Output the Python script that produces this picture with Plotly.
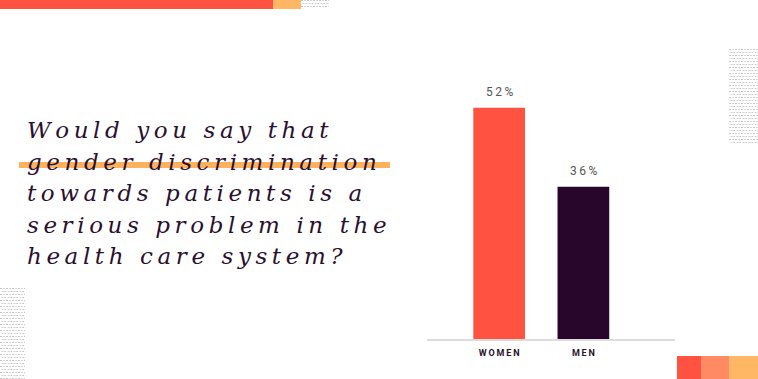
import base64
import plotly.graph_objects as go

# ---------------- data ----------------
categories = ["WOMEN", "MEN"]
values = [52, 36]
value_labels = ["52%", "36%"]
bar_colors = ["#FF5240", "#28062B"]
question_lines = [
    "Would you say that",
    "gender discrimination",
    "towards patients is a",
    "serious problem in the",
    "health care system?",
]

W, H = 758, 379
TEXT_DARK = "#2A0F2E"


def spaced(s, sep="\u2009"):
    return sep.join(s)


def px_x(x):
    return x / W


def px_y(y):
    return 1 - y / H


fig = go.Figure()
fig.add_trace(go.Bar(
    x=categories,
    y=values,
    marker=dict(color=bar_colors, line=dict(width=0)),
    width=0.614,
    hoverinfo="skip",
))

# value labels above bars
for c, v, lab in zip(categories, values, value_labels):
    fig.add_annotation(
        x=c, y=v, xref="x", yref="y", text=spaced(lab), showarrow=False,
        yanchor="bottom", yshift=7,
        font=dict(family="Roboto", size=12, color="#555555"),
    )

# question text
centers = [130, 161.5, 193, 224.5, 255.5]
for line, yc in zip(question_lines, centers):
    fig.add_annotation(
        x=px_x(25), y=px_y(yc), xref="paper", yref="paper",
        xanchor="left", yanchor="middle", showarrow=False,
        text=spaced(line),
        font=dict(family="DejaVu Serif", size=23, color=TEXT_DARK, style="italic"),
    )

shapes = []
# highlight under second line
shapes.append(dict(type="rect", xref="paper", yref="paper", layer="below",
                   x0=px_x(19), x1=px_x(390), y0=px_y(168), y1=px_y(162),
                   fillcolor="#FFB25E", line=dict(width=0)))
# top bar
shapes.append(dict(type="rect", xref="paper", yref="paper", layer="below",
                   x0=0, x1=px_x(273), y0=px_y(9), y1=1,
                   fillcolor="#FF5240", line=dict(width=0)))
shapes.append(dict(type="rect", xref="paper", yref="paper", layer="below",
                   x0=px_x(273), x1=px_x(301), y0=px_y(9), y1=1,
                   fillcolor="#FFB765", line=dict(width=0)))
# bottom-right blocks
for x0, x1, col in [(677, 701, "#FF5240"), (701, 729, "#FF8A63"), (729, 758, "#FFB765")]:
    shapes.append(dict(type="rect", xref="paper", yref="paper", layer="below",
                       x0=px_x(x0), x1=px_x(x1), y0=0, y1=px_y(356),
                       fillcolor=col, line=dict(width=0)))


def dot_pattern(w, h):
    svg = (
        f'<svg xmlns="http://www.w3.org/2000/svg" width="{w}" height="{h}">'
        '<defs><pattern id="p" width="6" height="6" patternUnits="userSpaceOnUse">'
        '<rect x="0" y="0" width="2" height="1" fill="#c4c4c4"/>'
        '<rect x="3" y="0" width="2" height="1" fill="#d6d6d6"/>'
        '<rect x="1.5" y="3" width="2" height="1" fill="#cfcfcf"/>'
        '<rect x="4.5" y="3" width="2" height="1" fill="#c0c0c0"/>'
        '</pattern></defs><rect width="100%" height="100%" fill="url(#p)"/></svg>'
    )
    return "data:image/svg+xml;base64," + base64.b64encode(svg.encode()).decode()


images = []
for x0, y0, x1, y1 in [(301, 0, 329, 9), (729, 49, 758, 144), (0, 288, 25, 379)]:
    images.append(dict(source=dot_pattern(x1 - x0, y1 - y0), xref="paper", yref="paper",
                       x=px_x(x0), y=px_y(y0), sizex=(x1 - x0) / W, sizey=(y1 - y0) / H,
                       xanchor="left", yanchor="top", sizing="stretch", layer="below"))

fig.update_layout(
    width=W, height=H,
    margin=dict(l=0, r=0, t=0, b=0),
    paper_bgcolor="white", plot_bgcolor="white",
    showlegend=False,
    shapes=shapes,
    images=images,
    xaxis=dict(
        domain=[px_x(427), px_x(675)],
        range=[-0.857, 2.088],
        showgrid=False, zeroline=False,
        showline=True, linecolor="#dcdcdc", linewidth=1.5,
        ticks="outside", ticklen=4, tickcolor="rgba(0,0,0,0)",
        tickvals=categories, ticktext=[spaced(c) for c in categories],
        tickfont=dict(family="Roboto", size=9, color=TEXT_DARK, weight="bold"),
        fixedrange=True,
    ),
    yaxis=dict(
        domain=[px_y(339), px_y(80)],
        range=[5.2, 57.6],
        visible=False, showgrid=False, zeroline=False,
        fixedrange=True,
    ),
)

fig.write_html(
    "out.html",
    config={"displayModeBar": False},
    post_script="document.body.style.margin='0';document.body.style.overflow='hidden';",
)
